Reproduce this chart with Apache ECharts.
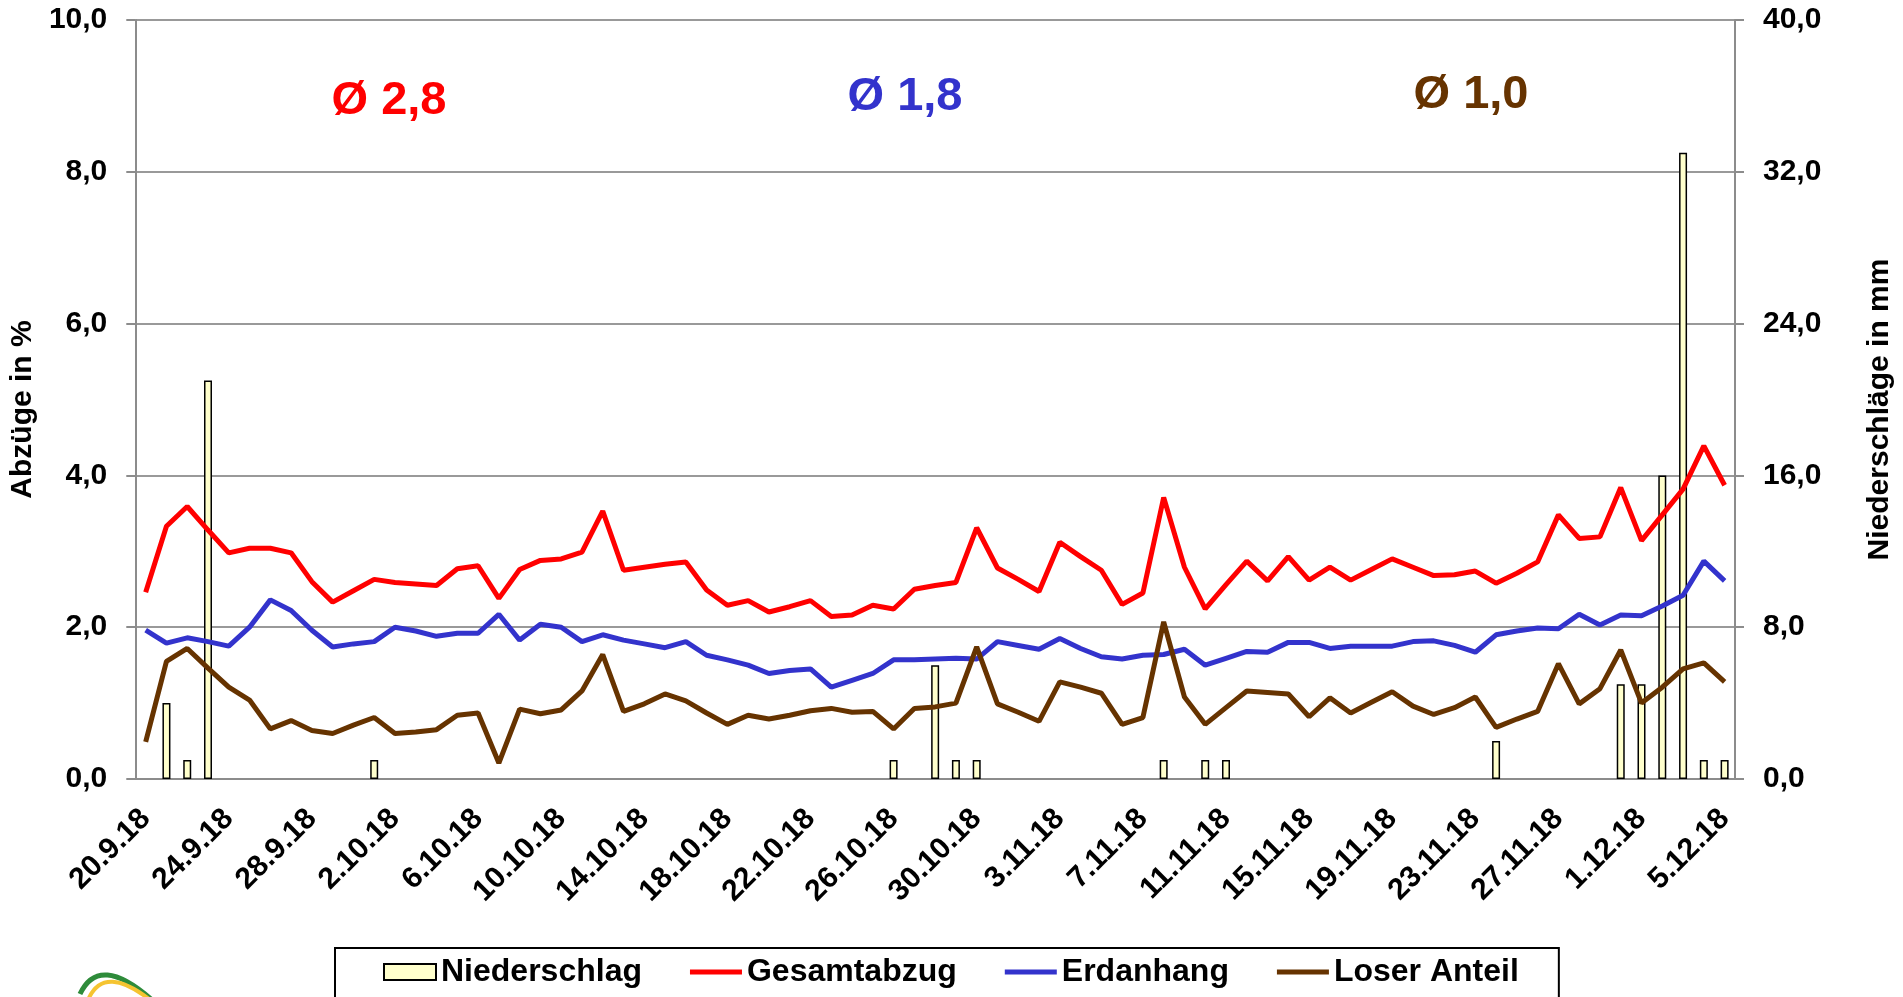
<!DOCTYPE html>
<html>
<head>
<meta charset="utf-8">
<title>Abzüge und Niederschlag</title>
<script src="https://cdn.jsdelivr.net/npm/echarts@6/dist/echarts.min.js"></script>
<style>
  html, body { margin: 0; padding: 0; background: #fff; }
  #chart { width: 1903px; height: 997px; }
</style>
</head>
<body>
<div id="chart"></div>
<script>
// Tage 20.9.18 bis 5.12.18
const days = [
  '20.9.18', '21.9.18', '22.9.18', '23.9.18', '24.9.18', '25.9.18', '26.9.18', '27.9.18', '28.9.18', '29.9.18', '30.9.18',
  '1.10.18', '2.10.18', '3.10.18', '4.10.18', '5.10.18', '6.10.18', '7.10.18', '8.10.18', '9.10.18', '10.10.18',
  '11.10.18', '12.10.18', '13.10.18', '14.10.18', '15.10.18', '16.10.18', '17.10.18', '18.10.18', '19.10.18', '20.10.18',
  '21.10.18', '22.10.18', '23.10.18', '24.10.18', '25.10.18', '26.10.18', '27.10.18', '28.10.18', '29.10.18', '30.10.18',
  '31.10.18', '1.11.18', '2.11.18', '3.11.18', '4.11.18', '5.11.18', '6.11.18', '7.11.18', '8.11.18', '9.11.18',
  '10.11.18', '11.11.18', '12.11.18', '13.11.18', '14.11.18', '15.11.18', '16.11.18', '17.11.18', '18.11.18', '19.11.18',
  '20.11.18', '21.11.18', '22.11.18', '23.11.18', '24.11.18', '25.11.18', '26.11.18', '27.11.18', '28.11.18', '29.11.18',
  '30.11.18', '1.12.18', '2.12.18', '3.12.18', '4.12.18', '5.12.18'
]

// Niederschlag in mm (rechte Achse), null = kein Regen
const niederschlag = [
  null, 4.0, 1.0, 21.0, null, null, null, null, null, null, null,
  1.0, null, null, null, null, null, null, null, null, null,
  null, null, null, null, null, null, null, null, null, null,
  null, null, null, null, null, 1.0, null, 6.0, 1.0, 1.0,
  null, null, null, null, null, null, null, null, 1.0, null,
  1.0, 1.0, null, null, null, null, null, null, null, null,
  null, null, null, null, 2.0, null, null, null, null, null,
  5.0, 5.0, 16.0, 33.0, 1.0, 1.0
]

// Abzüge in %
const gesamtabzug = [
  2.46, 3.33, 3.59, 3.28, 2.98, 3.04, 3.04, 2.98, 2.60, 2.33, 2.48,
  2.63, 2.59, 2.57, 2.55, 2.77, 2.81, 2.38, 2.76, 2.88, 2.90,
  2.99, 3.53, 2.75, 2.79, 2.83, 2.86, 2.49, 2.29, 2.35, 2.20,
  2.27, 2.35, 2.14, 2.16, 2.29, 2.24, 2.50, 2.55, 2.59, 3.31,
  2.78, 2.63, 2.47, 3.12, 2.93, 2.75, 2.30, 2.45, 3.71, 2.79,
  2.24, 2.56, 2.87, 2.61, 2.93, 2.62, 2.79, 2.62, 2.76, 2.90,
  2.79, 2.68, 2.69, 2.74, 2.58, 2.71, 2.86, 3.48, 3.17, 3.19,
  3.84, 3.14, 3.48, 3.82, 4.39, 3.87
]
const erdanhang = [
  1.96, 1.79, 1.86, 1.81, 1.75, 2.00, 2.36, 2.22, 1.96, 1.74, 1.78,
  1.81, 2.00, 1.95, 1.88, 1.92, 1.92, 2.17, 1.83, 2.04, 2.00,
  1.81, 1.90, 1.83, 1.78, 1.73, 1.81, 1.63, 1.57, 1.50, 1.39,
  1.43, 1.45, 1.21, 1.30, 1.39, 1.57, 1.57, 1.58, 1.59, 1.58,
  1.81, 1.76, 1.71, 1.85, 1.72, 1.61, 1.58, 1.63, 1.64, 1.71,
  1.50, 1.59, 1.68, 1.67, 1.80, 1.80, 1.72, 1.75, 1.75, 1.75,
  1.81, 1.82, 1.76, 1.67, 1.90, 1.95, 1.99, 1.98, 2.17, 2.03,
  2.16, 2.15, 2.28, 2.42, 2.87, 2.61
]
const loserAnteil = [
  0.49, 1.55, 1.72, 1.46, 1.21, 1.04, 0.66, 0.77, 0.64, 0.60, 0.71,
  0.81, 0.60, 0.62, 0.65, 0.84, 0.87, 0.21, 0.92, 0.86, 0.91,
  1.16, 1.64, 0.89, 0.99, 1.12, 1.03, 0.87, 0.72, 0.84, 0.79,
  0.84, 0.90, 0.93, 0.88, 0.89, 0.66, 0.93, 0.95, 1.00, 1.74,
  0.99, 0.88, 0.76, 1.28, 1.21, 1.13, 0.72, 0.81, 2.07, 1.08,
  0.72, 0.94, 1.16, 1.14, 1.12, 0.82, 1.07, 0.87, 1.01, 1.15,
  0.96, 0.85, 0.94, 1.08, 0.68, 0.79, 0.89, 1.52, 0.99, 1.19,
  1.70, 1.00, 1.21, 1.45, 1.53, 1.28
]

// Mittelwerte oben im Diagramm
const mittelwerte = [
  { text: 'Ø 2,8', color: '#ff0000', x: 389, y: 101 },
  { text: 'Ø 1,8', color: '#3333cc', x: 905, y: 97 },
  { text: 'Ø 1,0', color: '#663300', x: 1471, y: 95 }
]

const FONT = "'Liberation Sans', Arial, sans-serif"
const komma = v => v.toFixed(1).replace('.', ',')
// schmaler Balken als Legenden-Symbol für die Linien (unsichtbare Punkte halten die Höhe)
const linienIcon = 'path://M0,0M0,5.5L52,5.5L52,10.5L0,10.5ZM52,16'

let myChart = echarts.init(document.getElementById('chart'))

const grauLinie = { color: '#8c8c8c', width: 2 }
// Achsentitel etwas nach unten geschoben (padding am Textende)
const achsenTitel = { fontFamily: FONT, fontWeight: 'bold', fontSize: 30, color: '#000', padding: [0, 20, 0, 0] }

var option = {
  animation: false,
  backgroundColor: '#fff',
  textStyle: { fontFamily: FONT },
  grid: { left: 132, right: 163, top: 20, bottom: 218 },
  legend: {
    left: 335,
    top: 948,
    width: 1140,
    padding: [8, 40, 40, 48],
    borderColor: '#000',
    borderWidth: 2,
    itemGap: 48,
    itemWidth: 52,
    itemHeight: 16,
    textStyle: { fontFamily: FONT, fontWeight: 'bold', fontSize: 32, color: '#000' },
    data: [
      { name: 'Niederschlag', icon: 'rect' },
      { name: 'Gesamtabzug', icon: linienIcon },
      { name: 'Erdanhang', icon: linienIcon },
      { name: 'Loser Anteil', icon: linienIcon }
    ]
  },
  xAxis: {
    type: 'category',
    data: days,
    boundaryGap: true,
    axisLine: { lineStyle: grauLinie },
    axisTick: { interval: 3, length: 9, lineStyle: grauLinie },
    axisLabel: {
      interval: 3,
      rotate: 45,
      margin: 35,
      color: '#000',
      fontFamily: FONT,
      fontWeight: 'bold',
      fontSize: 30
    },
    splitLine: { show: false }
  },
  yAxis: [{
    type: 'value',
    min: 0,
    max: 10,
    interval: 2,
    name: 'Abzüge in %',
    nameLocation: 'middle',
    nameRotate: 90,
    nameGap: 80,
    nameTextStyle: achsenTitel,
    axisLine: { show: true, lineStyle: grauLinie },
    axisTick: { show: true, length: 9, lineStyle: grauLinie },
    axisLabel: { formatter: komma, margin: 28, color: '#000', fontFamily: FONT, fontWeight: 'bold', fontSize: 30 },
    splitLine: { lineStyle: { color: '#999', width: 2 } }
  }, {
    type: 'value',
    min: 0,
    max: 40,
    interval: 8,
    position: 'right',
    name: 'Niederschläge in mm',
    nameLocation: 'middle',
    nameRotate: 90,
    nameGap: 130,
    nameTextStyle: achsenTitel,
    axisLine: { show: true, lineStyle: grauLinie },
    axisTick: { show: true, length: 9, lineStyle: grauLinie },
    axisLabel: { formatter: komma, margin: 28, color: '#000', fontFamily: FONT, fontWeight: 'bold', fontSize: 30 },
    splitLine: { show: false }
  }],
  series: [{
    name: 'Niederschlag',
    type: 'bar',
    yAxisIndex: 1,
    barWidth: 8,
    itemStyle: { color: '#ffffcc', borderColor: '#000', borderWidth: 1.5 },
    data: niederschlag,
    z: 1
  }, {
    name: 'Gesamtabzug',
    type: 'line',
    symbol: 'none',
    lineStyle: { color: '#ff0000', width: 5 },
    itemStyle: { color: '#ff0000' },
    data: gesamtabzug,
    z: 3
  }, {
    name: 'Erdanhang',
    type: 'line',
    symbol: 'none',
    lineStyle: { color: '#3333cc', width: 5 },
    itemStyle: { color: '#3333cc' },
    data: erdanhang,
    z: 3
  }, {
    name: 'Loser Anteil',
    type: 'line',
    symbol: 'none',
    lineStyle: { color: '#663300', width: 5 },
    itemStyle: { color: '#663300' },
    data: loserAnteil,
    z: 3
  }],
  graphic: mittelwerte.map(m => ({
    type: 'text',
    x: m.x,
    y: m.y,
    style: {
      text: m.text,
      fill: m.color,
      font: 'bold 47px ' + FONT,
      align: 'center',
      verticalAlign: 'middle'
    }
  })).concat([
    // Logo-Ansatz unten links
    {
      type: 'bezierCurve',
      shape: { x1: 80, y1: 994, cpx1: 99, cpy1: 953, x2: 152, y2: 1000 },
      style: { stroke: '#2e8b3a', lineWidth: 5, fill: null }
    },
    {
      type: 'bezierCurve',
      shape: { x1: 88, y1: 1000, cpx1: 104, cpy1: 962, x2: 154, y2: 1003 },
      style: { stroke: '#f5c431', lineWidth: 4, fill: null }
    }
  ])
}

myChart.setOption(option)
</script>
</body>
</html>
